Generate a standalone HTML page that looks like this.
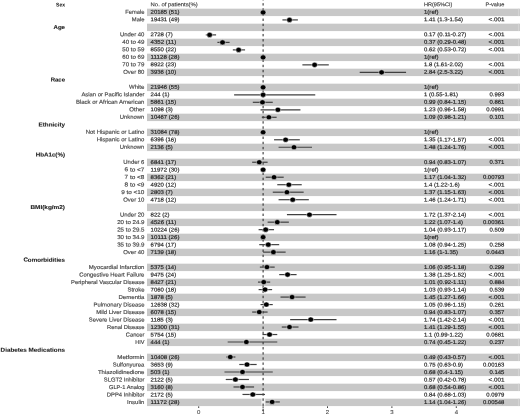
<!DOCTYPE html>
<html><head><meta charset="utf-8"><style>
html,body{margin:0;padding:0;background:#fff;}
body{width:520px;height:414px;overflow:hidden;font-family:"Liberation Sans",sans-serif;}
svg{display:block;text-rendering:geometricPrecision;will-change:transform;}
</style></head><body>
<svg width="520" height="414" viewBox="0 0 520 414" font-family="Liberation Sans, sans-serif">
<rect width="520" height="414" fill="#fff"/>
<rect x="147.0" y="8.67" width="373.0" height="7.4" fill="#c8c8c8"/><rect x="518.2" y="8.67" width="0.9" height="7.4" fill="#d8d8d8"/><rect x="147.0" y="23.67" width="373.0" height="7.4" fill="#c8c8c8"/><rect x="518.2" y="23.67" width="0.9" height="7.4" fill="#d8d8d8"/><rect x="147.0" y="38.67" width="373.0" height="7.4" fill="#c8c8c8"/><rect x="518.2" y="38.67" width="0.9" height="7.4" fill="#d8d8d8"/><rect x="147.0" y="53.67" width="373.0" height="7.4" fill="#c8c8c8"/><rect x="518.2" y="53.67" width="0.9" height="7.4" fill="#d8d8d8"/><rect x="147.0" y="68.67" width="373.0" height="7.4" fill="#c8c8c8"/><rect x="518.2" y="68.67" width="0.9" height="7.4" fill="#d8d8d8"/><rect x="147.0" y="83.67" width="373.0" height="7.4" fill="#c8c8c8"/><rect x="518.2" y="83.67" width="0.9" height="7.4" fill="#d8d8d8"/><rect x="147.0" y="98.67" width="373.0" height="7.4" fill="#c8c8c8"/><rect x="518.2" y="98.67" width="0.9" height="7.4" fill="#d8d8d8"/><rect x="147.0" y="113.67" width="373.0" height="7.4" fill="#c8c8c8"/><rect x="518.2" y="113.67" width="0.9" height="7.4" fill="#d8d8d8"/><rect x="147.0" y="128.67" width="373.0" height="7.4" fill="#c8c8c8"/><rect x="518.2" y="128.67" width="0.9" height="7.4" fill="#d8d8d8"/><rect x="147.0" y="143.67" width="373.0" height="7.4" fill="#c8c8c8"/><rect x="518.2" y="143.67" width="0.9" height="7.4" fill="#d8d8d8"/><rect x="147.0" y="158.67" width="373.0" height="7.4" fill="#c8c8c8"/><rect x="518.2" y="158.67" width="0.9" height="7.4" fill="#d8d8d8"/><rect x="147.0" y="173.67" width="373.0" height="7.4" fill="#c8c8c8"/><rect x="518.2" y="173.67" width="0.9" height="7.4" fill="#d8d8d8"/><rect x="147.0" y="188.67" width="373.0" height="7.4" fill="#c8c8c8"/><rect x="518.2" y="188.67" width="0.9" height="7.4" fill="#d8d8d8"/><rect x="147.0" y="203.67" width="373.0" height="7.4" fill="#c8c8c8"/><rect x="518.2" y="203.67" width="0.9" height="7.4" fill="#d8d8d8"/><rect x="147.0" y="218.67" width="373.0" height="7.4" fill="#c8c8c8"/><rect x="518.2" y="218.67" width="0.9" height="7.4" fill="#d8d8d8"/><rect x="147.0" y="233.67" width="373.0" height="7.4" fill="#c8c8c8"/><rect x="518.2" y="233.67" width="0.9" height="7.4" fill="#d8d8d8"/><rect x="147.0" y="248.67" width="373.0" height="7.4" fill="#c8c8c8"/><rect x="518.2" y="248.67" width="0.9" height="7.4" fill="#d8d8d8"/><rect x="147.0" y="263.67" width="373.0" height="7.4" fill="#c8c8c8"/><rect x="518.2" y="263.67" width="0.9" height="7.4" fill="#d8d8d8"/><rect x="147.0" y="278.67" width="373.0" height="7.4" fill="#c8c8c8"/><rect x="518.2" y="278.67" width="0.9" height="7.4" fill="#d8d8d8"/><rect x="147.0" y="293.67" width="373.0" height="7.4" fill="#c8c8c8"/><rect x="518.2" y="293.67" width="0.9" height="7.4" fill="#d8d8d8"/><rect x="147.0" y="308.67" width="373.0" height="7.4" fill="#c8c8c8"/><rect x="518.2" y="308.67" width="0.9" height="7.4" fill="#d8d8d8"/><rect x="147.0" y="323.67" width="373.0" height="7.4" fill="#c8c8c8"/><rect x="518.2" y="323.67" width="0.9" height="7.4" fill="#d8d8d8"/><rect x="147.0" y="338.67" width="373.0" height="7.4" fill="#c8c8c8"/><rect x="518.2" y="338.67" width="0.9" height="7.4" fill="#d8d8d8"/><rect x="147.0" y="353.67" width="373.0" height="7.4" fill="#c8c8c8"/><rect x="518.2" y="353.67" width="0.9" height="7.4" fill="#d8d8d8"/><rect x="147.0" y="368.67" width="373.0" height="7.4" fill="#c8c8c8"/><rect x="518.2" y="368.67" width="0.9" height="7.4" fill="#d8d8d8"/><rect x="147.0" y="383.67" width="373.0" height="7.4" fill="#c8c8c8"/><rect x="518.2" y="383.67" width="0.9" height="7.4" fill="#d8d8d8"/><rect x="147.0" y="398.67" width="373.0" height="7.4" fill="#c8c8c8"/><rect x="518.2" y="398.67" width="0.9" height="7.4" fill="#d8d8d8"/>
<rect x="261.4" y="398.6" width="3.9" height="7.0" fill="#fff" fill-opacity="0.75"/>
<line x1="263.10" y1="-1.9729999999999999" x2="263.10" y2="414" stroke="#222" stroke-width="1.0" stroke-dasharray="2.4 2.733"/>
<g stroke="#404040" stroke-width="1.2"><line x1="282.42" y1="19.91" x2="297.88" y2="19.91"/><line x1="205.78" y1="34.89" x2="216.09" y2="34.89"/><line x1="217.38" y1="42.38" x2="229.61" y2="42.38"/><line x1="232.83" y1="49.88" x2="245.07" y2="49.88"/><line x1="302.38" y1="64.86" x2="328.79" y2="64.86"/><line x1="359.70" y1="72.35" x2="406.07" y2="72.35"/><line x1="234.12" y1="94.82" x2="315.26" y2="94.82"/><line x1="252.80" y1="102.31" x2="272.76" y2="102.31"/><line x1="260.52" y1="109.80" x2="300.45" y2="109.80"/><line x1="261.81" y1="117.29" x2="276.62" y2="117.29"/><line x1="274.05" y1="139.77" x2="299.81" y2="139.77"/><line x1="278.56" y1="147.26" x2="312.04" y2="147.26"/><line x1="252.15" y1="162.24" x2="267.61" y2="162.24"/><line x1="265.68" y1="177.22" x2="283.71" y2="177.22"/><line x1="277.27" y1="184.71" x2="301.74" y2="184.71"/><line x1="272.76" y1="192.20" x2="303.67" y2="192.20"/><line x1="278.56" y1="199.70" x2="308.82" y2="199.70"/><line x1="286.93" y1="214.68" x2="336.52" y2="214.68"/><line x1="267.61" y1="222.17" x2="288.86" y2="222.17"/><line x1="258.59" y1="229.66" x2="274.05" y2="229.66"/><line x1="259.24" y1="244.64" x2="279.20" y2="244.64"/><line x1="263.10" y1="252.13" x2="285.64" y2="252.13"/><line x1="259.88" y1="267.12" x2="274.69" y2="267.12"/><line x1="279.20" y1="274.61" x2="296.59" y2="274.61"/><line x1="257.95" y1="282.10" x2="270.18" y2="282.10"/><line x1="258.59" y1="289.59" x2="272.12" y2="289.59"/><line x1="280.49" y1="297.08" x2="305.60" y2="297.08"/><line x1="260.52" y1="304.57" x2="272.76" y2="304.57"/><line x1="252.15" y1="312.06" x2="267.61" y2="312.06"/><line x1="290.15" y1="319.55" x2="336.52" y2="319.55"/><line x1="281.78" y1="327.04" x2="298.52" y2="327.04"/><line x1="262.46" y1="334.53" x2="277.27" y2="334.53"/><line x1="227.68" y1="342.02" x2="277.27" y2="342.02"/><line x1="226.39" y1="357.01" x2="235.41" y2="357.01"/><line x1="239.27" y1="364.50" x2="256.66" y2="364.50"/><line x1="224.46" y1="371.99" x2="272.76" y2="371.99"/><line x1="225.75" y1="379.48" x2="248.93" y2="379.48"/><line x1="233.48" y1="386.97" x2="254.08" y2="386.97"/><line x1="242.49" y1="394.46" x2="265.03" y2="394.46"/><line x1="265.68" y1="401.95" x2="279.84" y2="401.95"/></g>
<g fill="#000" stroke="#fff" stroke-width="0.5"><ellipse cx="263.10" cy="12.42" rx="2.85" ry="2.55"/><ellipse cx="289.50" cy="19.91" rx="2.85" ry="2.55"/><ellipse cx="209.65" cy="34.89" rx="2.85" ry="2.55"/><ellipse cx="222.53" cy="42.38" rx="2.85" ry="2.55"/><ellipse cx="238.63" cy="49.88" rx="2.85" ry="2.55"/><ellipse cx="263.10" cy="57.37" rx="2.85" ry="2.55"/><ellipse cx="314.62" cy="64.86" rx="2.85" ry="2.55"/><ellipse cx="381.60" cy="72.35" rx="2.85" ry="2.55"/><ellipse cx="263.10" cy="87.33" rx="2.85" ry="2.55"/><ellipse cx="263.10" cy="94.82" rx="2.85" ry="2.55"/><ellipse cx="262.46" cy="102.31" rx="2.85" ry="2.55"/><ellipse cx="277.91" cy="109.80" rx="2.85" ry="2.55"/><ellipse cx="268.90" cy="117.29" rx="2.85" ry="2.55"/><ellipse cx="263.10" cy="132.28" rx="2.85" ry="2.55"/><ellipse cx="285.64" cy="139.77" rx="2.85" ry="2.55"/><ellipse cx="294.01" cy="147.26" rx="2.85" ry="2.55"/><ellipse cx="259.24" cy="162.24" rx="2.85" ry="2.55"/><ellipse cx="263.10" cy="169.73" rx="2.85" ry="2.55"/><ellipse cx="274.05" cy="177.22" rx="2.85" ry="2.55"/><ellipse cx="288.86" cy="184.71" rx="2.85" ry="2.55"/><ellipse cx="286.93" cy="192.20" rx="2.85" ry="2.55"/><ellipse cx="292.72" cy="199.70" rx="2.85" ry="2.55"/><ellipse cx="309.47" cy="214.68" rx="2.85" ry="2.55"/><ellipse cx="277.27" cy="222.17" rx="2.85" ry="2.55"/><ellipse cx="265.68" cy="229.66" rx="2.85" ry="2.55"/><ellipse cx="263.10" cy="237.15" rx="2.85" ry="2.55"/><ellipse cx="268.25" cy="244.64" rx="2.85" ry="2.55"/><ellipse cx="273.40" cy="252.13" rx="2.85" ry="2.55"/><ellipse cx="266.96" cy="267.12" rx="2.85" ry="2.55"/><ellipse cx="287.57" cy="274.61" rx="2.85" ry="2.55"/><ellipse cx="263.74" cy="282.10" rx="2.85" ry="2.55"/><ellipse cx="265.03" cy="289.59" rx="2.85" ry="2.55"/><ellipse cx="292.08" cy="297.08" rx="2.85" ry="2.55"/><ellipse cx="266.32" cy="304.57" rx="2.85" ry="2.55"/><ellipse cx="259.24" cy="312.06" rx="2.85" ry="2.55"/><ellipse cx="310.76" cy="319.55" rx="2.85" ry="2.55"/><ellipse cx="289.50" cy="327.04" rx="2.85" ry="2.55"/><ellipse cx="269.54" cy="334.53" rx="2.85" ry="2.55"/><ellipse cx="246.36" cy="342.02" rx="2.85" ry="2.55"/><ellipse cx="230.26" cy="357.01" rx="2.85" ry="2.55"/><ellipse cx="247.00" cy="364.50" rx="2.85" ry="2.55"/><ellipse cx="242.49" cy="371.99" rx="2.85" ry="2.55"/><ellipse cx="235.41" cy="379.48" rx="2.85" ry="2.55"/><ellipse cx="242.49" cy="386.97" rx="2.85" ry="2.55"/><ellipse cx="252.80" cy="394.46" rx="2.85" ry="2.55"/><ellipse cx="272.12" cy="401.95" rx="2.85" ry="2.55"/></g>
<text transform="translate(65.00,6.45) skewY(0.05)" font-size="5.400" font-weight="bold" text-anchor="end" fill="#1a1a1a" stroke="#1a1a1a" stroke-width="0.05" textLength="8.90" lengthAdjust="spacingAndGlyphs">Sex</text><text transform="translate(150.60,6.25) skewY(0.05)" font-size="5.512" fill="#333" stroke="#333" stroke-width="0.12" textLength="47.16" lengthAdjust="spacingAndGlyphs">No. of patients(%)</text><text transform="translate(424.00,6.25) skewY(0.05)" font-size="5.512" fill="#333" stroke="#333" stroke-width="0.12" textLength="28.30" lengthAdjust="spacingAndGlyphs">HR(95%CI)</text><text transform="translate(504.40,6.25) skewY(0.05)" font-size="5.512" text-anchor="end" fill="#333" stroke="#333" stroke-width="0.12" textLength="18.96" lengthAdjust="spacingAndGlyphs">P-value</text><text transform="translate(144.40,13.76) skewY(0.05)" font-size="5.618" text-anchor="end" fill="#484848" stroke="#484848" stroke-width="0.16" textLength="19.16" lengthAdjust="spacingAndGlyphs">Female</text><text transform="translate(150.60,13.76) skewY(0.05)" font-size="5.512" fill="#222" stroke="#222" stroke-width="0.16" textLength="28.87" lengthAdjust="spacingAndGlyphs">20185 (51)</text><text transform="translate(424.00,13.76) skewY(0.05)" font-size="5.512" fill="#222" stroke="#222" stroke-width="0.16" textLength="14.42" lengthAdjust="spacingAndGlyphs">1(ref)</text><text transform="translate(144.40,21.26) skewY(0.05)" font-size="5.618" text-anchor="end" fill="#484848" stroke="#484848" stroke-width="0.16" textLength="12.55" lengthAdjust="spacingAndGlyphs">Male</text><text transform="translate(150.60,21.26) skewY(0.05)" font-size="5.512" fill="#222" stroke="#222" stroke-width="0.16" textLength="28.87" lengthAdjust="spacingAndGlyphs">19431 (49)</text><text transform="translate(424.00,21.26) skewY(0.05)" font-size="5.512" fill="#222" stroke="#222" stroke-width="0.16" textLength="39.01" lengthAdjust="spacingAndGlyphs">1.41 (1.3-1.54)</text><text transform="translate(504.40,21.26) skewY(0.05)" font-size="5.512" text-anchor="end" fill="#222" stroke="#222" stroke-width="0.16" textLength="15.94" lengthAdjust="spacingAndGlyphs">&lt;.001</text><text transform="translate(65.00,28.97) skewY(0.05)" font-size="5.618" font-weight="bold" text-anchor="end" fill="#1a1a1a" stroke="#1a1a1a" stroke-width="0.1" textLength="11.49" lengthAdjust="spacingAndGlyphs">Age</text><text transform="translate(144.40,36.28) skewY(0.05)" font-size="5.618" text-anchor="end" fill="#484848" stroke="#484848" stroke-width="0.16" textLength="24.47" lengthAdjust="spacingAndGlyphs">Under 40</text><text transform="translate(150.60,36.28) skewY(0.05)" font-size="5.512" fill="#222" stroke="#222" stroke-width="0.16" textLength="22.25" lengthAdjust="spacingAndGlyphs">2728 (7)</text><text transform="translate(424.00,36.28) skewY(0.05)" font-size="5.512" fill="#222" stroke="#222" stroke-width="0.16" textLength="42.32" lengthAdjust="spacingAndGlyphs">0.17 (0.11-0.27)</text><text transform="translate(504.40,36.28) skewY(0.05)" font-size="5.512" text-anchor="end" fill="#222" stroke="#222" stroke-width="0.16" textLength="15.94" lengthAdjust="spacingAndGlyphs">&lt;.001</text><text transform="translate(144.40,43.78) skewY(0.05)" font-size="5.618" text-anchor="end" fill="#484848" stroke="#484848" stroke-width="0.16" textLength="22.18" lengthAdjust="spacingAndGlyphs">40 to 49</text><text transform="translate(150.60,43.78) skewY(0.05)" font-size="5.512" fill="#222" stroke="#222" stroke-width="0.16" textLength="25.56" lengthAdjust="spacingAndGlyphs">4352 (11)</text><text transform="translate(424.00,43.78) skewY(0.05)" font-size="5.512" fill="#222" stroke="#222" stroke-width="0.16" textLength="42.32" lengthAdjust="spacingAndGlyphs">0.37 (0.29-0.48)</text><text transform="translate(504.40,43.78) skewY(0.05)" font-size="5.512" text-anchor="end" fill="#222" stroke="#222" stroke-width="0.16" textLength="15.94" lengthAdjust="spacingAndGlyphs">&lt;.001</text><text transform="translate(144.40,51.29) skewY(0.05)" font-size="5.618" text-anchor="end" fill="#484848" stroke="#484848" stroke-width="0.16" textLength="22.18" lengthAdjust="spacingAndGlyphs">50 to 59</text><text transform="translate(150.60,51.29) skewY(0.05)" font-size="5.512" fill="#222" stroke="#222" stroke-width="0.16" textLength="25.56" lengthAdjust="spacingAndGlyphs">8550 (22)</text><text transform="translate(424.00,51.29) skewY(0.05)" font-size="5.512" fill="#222" stroke="#222" stroke-width="0.16" textLength="42.32" lengthAdjust="spacingAndGlyphs">0.62 (0.53-0.72)</text><text transform="translate(504.40,51.29) skewY(0.05)" font-size="5.512" text-anchor="end" fill="#222" stroke="#222" stroke-width="0.16" textLength="15.94" lengthAdjust="spacingAndGlyphs">&lt;.001</text><text transform="translate(144.40,58.79) skewY(0.05)" font-size="5.618" text-anchor="end" fill="#484848" stroke="#484848" stroke-width="0.16" textLength="22.18" lengthAdjust="spacingAndGlyphs">60 to 69</text><text transform="translate(150.60,58.79) skewY(0.05)" font-size="5.512" fill="#222" stroke="#222" stroke-width="0.16" textLength="28.87" lengthAdjust="spacingAndGlyphs">11128 (28)</text><text transform="translate(424.00,58.79) skewY(0.05)" font-size="5.512" fill="#222" stroke="#222" stroke-width="0.16" textLength="14.42" lengthAdjust="spacingAndGlyphs">1(ref)</text><text transform="translate(144.40,66.30) skewY(0.05)" font-size="5.618" text-anchor="end" fill="#484848" stroke="#484848" stroke-width="0.16" textLength="22.18" lengthAdjust="spacingAndGlyphs">70 to 79</text><text transform="translate(150.60,66.30) skewY(0.05)" font-size="5.512" fill="#222" stroke="#222" stroke-width="0.16" textLength="25.56" lengthAdjust="spacingAndGlyphs">8922 (23)</text><text transform="translate(424.00,66.30) skewY(0.05)" font-size="5.512" fill="#222" stroke="#222" stroke-width="0.16" textLength="39.01" lengthAdjust="spacingAndGlyphs">1.8 (1.61-2.02)</text><text transform="translate(504.40,66.30) skewY(0.05)" font-size="5.512" text-anchor="end" fill="#222" stroke="#222" stroke-width="0.16" textLength="15.94" lengthAdjust="spacingAndGlyphs">&lt;.001</text><text transform="translate(144.40,73.81) skewY(0.05)" font-size="5.618" text-anchor="end" fill="#484848" stroke="#484848" stroke-width="0.16" textLength="21.18" lengthAdjust="spacingAndGlyphs">Over 80</text><text transform="translate(150.60,73.81) skewY(0.05)" font-size="5.512" fill="#222" stroke="#222" stroke-width="0.16" textLength="25.56" lengthAdjust="spacingAndGlyphs">3936 (10)</text><text transform="translate(424.00,73.81) skewY(0.05)" font-size="5.512" fill="#222" stroke="#222" stroke-width="0.16" textLength="39.01" lengthAdjust="spacingAndGlyphs">2.84 (2.5-3.22)</text><text transform="translate(504.40,73.81) skewY(0.05)" font-size="5.512" text-anchor="end" fill="#222" stroke="#222" stroke-width="0.16" textLength="15.94" lengthAdjust="spacingAndGlyphs">&lt;.001</text><text transform="translate(65.00,81.51) skewY(0.05)" font-size="5.618" font-weight="bold" text-anchor="end" fill="#1a1a1a" stroke="#1a1a1a" stroke-width="0.1" textLength="14.39" lengthAdjust="spacingAndGlyphs">Race</text><text transform="translate(144.40,88.82) skewY(0.05)" font-size="5.618" text-anchor="end" fill="#484848" stroke="#484848" stroke-width="0.16" textLength="15.41" lengthAdjust="spacingAndGlyphs">White</text><text transform="translate(150.60,88.82) skewY(0.05)" font-size="5.512" fill="#222" stroke="#222" stroke-width="0.16" textLength="28.87" lengthAdjust="spacingAndGlyphs">21946 (55)</text><text transform="translate(424.00,88.82) skewY(0.05)" font-size="5.512" fill="#222" stroke="#222" stroke-width="0.16" textLength="14.42" lengthAdjust="spacingAndGlyphs">1(ref)</text><text transform="translate(144.40,96.33) skewY(0.05)" font-size="5.618" text-anchor="end" fill="#484848" stroke="#484848" stroke-width="0.16" textLength="62.99" lengthAdjust="spacingAndGlyphs">Asian or Pacific Islander</text><text transform="translate(150.60,96.33) skewY(0.05)" font-size="5.512" fill="#222" stroke="#222" stroke-width="0.16" textLength="18.94" lengthAdjust="spacingAndGlyphs">244 (1)</text><text transform="translate(424.00,96.33) skewY(0.05)" font-size="5.512" fill="#222" stroke="#222" stroke-width="0.16" textLength="34.05" lengthAdjust="spacingAndGlyphs">1 (0.55-1.81)</text><text transform="translate(504.40,96.33) skewY(0.05)" font-size="5.512" text-anchor="end" fill="#222" stroke="#222" stroke-width="0.16" textLength="14.89" lengthAdjust="spacingAndGlyphs">0.993</text><text transform="translate(144.40,103.83) skewY(0.05)" font-size="5.618" text-anchor="end" fill="#484848" stroke="#484848" stroke-width="0.16" textLength="68.51" lengthAdjust="spacingAndGlyphs">Black or African American</text><text transform="translate(150.60,103.83) skewY(0.05)" font-size="5.512" fill="#222" stroke="#222" stroke-width="0.16" textLength="25.56" lengthAdjust="spacingAndGlyphs">5861 (15)</text><text transform="translate(424.00,103.83) skewY(0.05)" font-size="5.512" fill="#222" stroke="#222" stroke-width="0.16" textLength="42.32" lengthAdjust="spacingAndGlyphs">0.99 (0.84-1.15)</text><text transform="translate(504.40,103.83) skewY(0.05)" font-size="5.512" text-anchor="end" fill="#222" stroke="#222" stroke-width="0.16" textLength="14.89" lengthAdjust="spacingAndGlyphs">0.861</text><text transform="translate(144.40,111.34) skewY(0.05)" font-size="5.618" text-anchor="end" fill="#484848" stroke="#484848" stroke-width="0.16" textLength="15.05" lengthAdjust="spacingAndGlyphs">Other</text><text transform="translate(150.60,111.34) skewY(0.05)" font-size="5.512" fill="#222" stroke="#222" stroke-width="0.16" textLength="22.25" lengthAdjust="spacingAndGlyphs">1098 (3)</text><text transform="translate(424.00,111.34) skewY(0.05)" font-size="5.512" fill="#222" stroke="#222" stroke-width="0.16" textLength="42.32" lengthAdjust="spacingAndGlyphs">1.23 (0.96-1.58)</text><text transform="translate(504.40,111.34) skewY(0.05)" font-size="5.512" text-anchor="end" fill="#222" stroke="#222" stroke-width="0.16" textLength="18.20" lengthAdjust="spacingAndGlyphs">0.0991</text><text transform="translate(144.40,118.84) skewY(0.05)" font-size="5.618" text-anchor="end" fill="#484848" stroke="#484848" stroke-width="0.16" textLength="24.60" lengthAdjust="spacingAndGlyphs">Unknown</text><text transform="translate(150.60,118.84) skewY(0.05)" font-size="5.512" fill="#222" stroke="#222" stroke-width="0.16" textLength="28.87" lengthAdjust="spacingAndGlyphs">10467 (26)</text><text transform="translate(424.00,118.84) skewY(0.05)" font-size="5.512" fill="#222" stroke="#222" stroke-width="0.16" textLength="42.32" lengthAdjust="spacingAndGlyphs">1.09 (0.98-1.21)</text><text transform="translate(504.40,118.84) skewY(0.05)" font-size="5.512" text-anchor="end" fill="#222" stroke="#222" stroke-width="0.16" textLength="14.89" lengthAdjust="spacingAndGlyphs">0.101</text><text transform="translate(65.00,126.55) skewY(0.05)" font-size="5.618" font-weight="bold" text-anchor="end" fill="#1a1a1a" stroke="#1a1a1a" stroke-width="0.1" textLength="26.46" lengthAdjust="spacingAndGlyphs">Ethnicity</text><text transform="translate(144.40,133.86) skewY(0.05)" font-size="5.618" text-anchor="end" fill="#484848" stroke="#484848" stroke-width="0.16" textLength="58.69" lengthAdjust="spacingAndGlyphs">Not Hispanic or Latino</text><text transform="translate(150.60,133.86) skewY(0.05)" font-size="5.512" fill="#222" stroke="#222" stroke-width="0.16" textLength="28.87" lengthAdjust="spacingAndGlyphs">31084 (78)</text><text transform="translate(424.00,133.86) skewY(0.05)" font-size="5.512" fill="#222" stroke="#222" stroke-width="0.16" textLength="14.42" lengthAdjust="spacingAndGlyphs">1(ref)</text><text transform="translate(144.40,141.36) skewY(0.05)" font-size="5.618" text-anchor="end" fill="#484848" stroke="#484848" stroke-width="0.16" textLength="47.72" lengthAdjust="spacingAndGlyphs">Hispanic or Latino</text><text transform="translate(150.60,141.36) skewY(0.05)" font-size="5.512" fill="#222" stroke="#222" stroke-width="0.16" textLength="25.56" lengthAdjust="spacingAndGlyphs">6396 (16)</text><text transform="translate(424.00,141.36) skewY(0.05)" font-size="5.512" fill="#222" stroke="#222" stroke-width="0.16" textLength="42.32" lengthAdjust="spacingAndGlyphs">1.35 (1.17-1.57)</text><text transform="translate(504.40,141.36) skewY(0.05)" font-size="5.512" text-anchor="end" fill="#222" stroke="#222" stroke-width="0.16" textLength="15.94" lengthAdjust="spacingAndGlyphs">&lt;.001</text><text transform="translate(144.40,148.87) skewY(0.05)" font-size="5.618" text-anchor="end" fill="#484848" stroke="#484848" stroke-width="0.16" textLength="24.60" lengthAdjust="spacingAndGlyphs">Unknown</text><text transform="translate(150.60,148.87) skewY(0.05)" font-size="5.512" fill="#222" stroke="#222" stroke-width="0.16" textLength="22.25" lengthAdjust="spacingAndGlyphs">2136 (5)</text><text transform="translate(424.00,148.87) skewY(0.05)" font-size="5.512" fill="#222" stroke="#222" stroke-width="0.16" textLength="42.32" lengthAdjust="spacingAndGlyphs">1.48 (1.24-1.76)</text><text transform="translate(504.40,148.87) skewY(0.05)" font-size="5.512" text-anchor="end" fill="#222" stroke="#222" stroke-width="0.16" textLength="15.94" lengthAdjust="spacingAndGlyphs">&lt;.001</text><text transform="translate(65.00,156.58) skewY(0.05)" font-size="5.618" font-weight="bold" text-anchor="end" fill="#1a1a1a" stroke="#1a1a1a" stroke-width="0.1" textLength="29.32" lengthAdjust="spacingAndGlyphs">HbA1c(%)</text><text transform="translate(144.40,163.88) skewY(0.05)" font-size="5.618" text-anchor="end" fill="#484848" stroke="#484848" stroke-width="0.16" textLength="21.10" lengthAdjust="spacingAndGlyphs">Under 6</text><text transform="translate(150.60,163.88) skewY(0.05)" font-size="5.512" fill="#222" stroke="#222" stroke-width="0.16" textLength="25.56" lengthAdjust="spacingAndGlyphs">6841 (17)</text><text transform="translate(424.00,163.88) skewY(0.05)" font-size="5.512" fill="#222" stroke="#222" stroke-width="0.16" textLength="42.32" lengthAdjust="spacingAndGlyphs">0.94 (0.83-1.07)</text><text transform="translate(504.40,163.88) skewY(0.05)" font-size="5.512" text-anchor="end" fill="#222" stroke="#222" stroke-width="0.16" textLength="14.89" lengthAdjust="spacingAndGlyphs">0.371</text><text transform="translate(144.40,171.39) skewY(0.05)" font-size="5.618" text-anchor="end" fill="#484848" stroke="#484848" stroke-width="0.16" textLength="19.88" lengthAdjust="spacingAndGlyphs">6 to &lt;7</text><text transform="translate(150.60,171.39) skewY(0.05)" font-size="5.512" fill="#222" stroke="#222" stroke-width="0.16" textLength="28.87" lengthAdjust="spacingAndGlyphs">11972 (30)</text><text transform="translate(424.00,171.39) skewY(0.05)" font-size="5.512" fill="#222" stroke="#222" stroke-width="0.16" textLength="14.42" lengthAdjust="spacingAndGlyphs">1(ref)</text><text transform="translate(144.40,178.89) skewY(0.05)" font-size="5.618" text-anchor="end" fill="#484848" stroke="#484848" stroke-width="0.16" textLength="19.88" lengthAdjust="spacingAndGlyphs">7 to &lt;8</text><text transform="translate(150.60,178.89) skewY(0.05)" font-size="5.512" fill="#222" stroke="#222" stroke-width="0.16" textLength="25.56" lengthAdjust="spacingAndGlyphs">8362 (21)</text><text transform="translate(424.00,178.89) skewY(0.05)" font-size="5.512" fill="#222" stroke="#222" stroke-width="0.16" textLength="42.32" lengthAdjust="spacingAndGlyphs">1.17 (1.04-1.32)</text><text transform="translate(504.40,178.89) skewY(0.05)" font-size="5.512" text-anchor="end" fill="#222" stroke="#222" stroke-width="0.16" textLength="21.50" lengthAdjust="spacingAndGlyphs">0.00793</text><text transform="translate(144.40,186.40) skewY(0.05)" font-size="5.618" text-anchor="end" fill="#484848" stroke="#484848" stroke-width="0.16" textLength="19.88" lengthAdjust="spacingAndGlyphs">8 to &lt;9</text><text transform="translate(150.60,186.40) skewY(0.05)" font-size="5.512" fill="#222" stroke="#222" stroke-width="0.16" textLength="25.56" lengthAdjust="spacingAndGlyphs">4920 (12)</text><text transform="translate(424.00,186.40) skewY(0.05)" font-size="5.512" fill="#222" stroke="#222" stroke-width="0.16" textLength="35.70" lengthAdjust="spacingAndGlyphs">1.4 (1.22-1.6)</text><text transform="translate(504.40,186.40) skewY(0.05)" font-size="5.512" text-anchor="end" fill="#222" stroke="#222" stroke-width="0.16" textLength="15.94" lengthAdjust="spacingAndGlyphs">&lt;.001</text><text transform="translate(144.40,193.91) skewY(0.05)" font-size="5.618" text-anchor="end" fill="#484848" stroke="#484848" stroke-width="0.16" textLength="23.25" lengthAdjust="spacingAndGlyphs">9 to &lt;10</text><text transform="translate(150.60,193.91) skewY(0.05)" font-size="5.512" fill="#222" stroke="#222" stroke-width="0.16" textLength="22.25" lengthAdjust="spacingAndGlyphs">2803 (7)</text><text transform="translate(424.00,193.91) skewY(0.05)" font-size="5.512" fill="#222" stroke="#222" stroke-width="0.16" textLength="42.32" lengthAdjust="spacingAndGlyphs">1.37 (1.15-1.63)</text><text transform="translate(504.40,193.91) skewY(0.05)" font-size="5.512" text-anchor="end" fill="#222" stroke="#222" stroke-width="0.16" textLength="15.94" lengthAdjust="spacingAndGlyphs">&lt;.001</text><text transform="translate(144.40,201.41) skewY(0.05)" font-size="5.618" text-anchor="end" fill="#484848" stroke="#484848" stroke-width="0.16" textLength="21.18" lengthAdjust="spacingAndGlyphs">Over 10</text><text transform="translate(150.60,201.41) skewY(0.05)" font-size="5.512" fill="#222" stroke="#222" stroke-width="0.16" textLength="25.56" lengthAdjust="spacingAndGlyphs">4718 (12)</text><text transform="translate(424.00,201.41) skewY(0.05)" font-size="5.512" fill="#222" stroke="#222" stroke-width="0.16" textLength="42.32" lengthAdjust="spacingAndGlyphs">1.46 (1.24-1.71)</text><text transform="translate(504.40,201.41) skewY(0.05)" font-size="5.512" text-anchor="end" fill="#222" stroke="#222" stroke-width="0.16" textLength="15.94" lengthAdjust="spacingAndGlyphs">&lt;.001</text><text transform="translate(65.00,209.12) skewY(0.05)" font-size="5.618" font-weight="bold" text-anchor="end" fill="#1a1a1a" stroke="#1a1a1a" stroke-width="0.1" textLength="34.60" lengthAdjust="spacingAndGlyphs">BMI(kg/m2)</text><text transform="translate(144.40,216.43) skewY(0.05)" font-size="5.618" text-anchor="end" fill="#484848" stroke="#484848" stroke-width="0.16" textLength="24.47" lengthAdjust="spacingAndGlyphs">Under 20</text><text transform="translate(150.60,216.43) skewY(0.05)" font-size="5.512" fill="#222" stroke="#222" stroke-width="0.16" textLength="18.94" lengthAdjust="spacingAndGlyphs">822 (2)</text><text transform="translate(424.00,216.43) skewY(0.05)" font-size="5.512" fill="#222" stroke="#222" stroke-width="0.16" textLength="42.32" lengthAdjust="spacingAndGlyphs">1.72 (1.37-2.14)</text><text transform="translate(504.40,216.43) skewY(0.05)" font-size="5.512" text-anchor="end" fill="#222" stroke="#222" stroke-width="0.16" textLength="15.94" lengthAdjust="spacingAndGlyphs">&lt;.001</text><text transform="translate(144.40,223.93) skewY(0.05)" font-size="5.618" text-anchor="end" fill="#484848" stroke="#484848" stroke-width="0.16" textLength="27.24" lengthAdjust="spacingAndGlyphs">20 to 24.9</text><text transform="translate(150.60,223.93) skewY(0.05)" font-size="5.512" fill="#222" stroke="#222" stroke-width="0.16" textLength="25.56" lengthAdjust="spacingAndGlyphs">4526 (11)</text><text transform="translate(424.00,223.93) skewY(0.05)" font-size="5.512" fill="#222" stroke="#222" stroke-width="0.16" textLength="39.01" lengthAdjust="spacingAndGlyphs">1.22 (1.07-1.4)</text><text transform="translate(504.40,223.93) skewY(0.05)" font-size="5.512" text-anchor="end" fill="#222" stroke="#222" stroke-width="0.16" textLength="21.50" lengthAdjust="spacingAndGlyphs">0.00361</text><text transform="translate(144.40,231.44) skewY(0.05)" font-size="5.618" text-anchor="end" fill="#484848" stroke="#484848" stroke-width="0.16" textLength="27.24" lengthAdjust="spacingAndGlyphs">25 to 29.5</text><text transform="translate(150.60,231.44) skewY(0.05)" font-size="5.512" fill="#222" stroke="#222" stroke-width="0.16" textLength="28.87" lengthAdjust="spacingAndGlyphs">10224 (26)</text><text transform="translate(424.00,231.44) skewY(0.05)" font-size="5.512" fill="#222" stroke="#222" stroke-width="0.16" textLength="42.32" lengthAdjust="spacingAndGlyphs">1.04 (0.93-1.17)</text><text transform="translate(504.40,231.44) skewY(0.05)" font-size="5.512" text-anchor="end" fill="#222" stroke="#222" stroke-width="0.16" textLength="14.89" lengthAdjust="spacingAndGlyphs">0.509</text><text transform="translate(144.40,238.95) skewY(0.05)" font-size="5.618" text-anchor="end" fill="#484848" stroke="#484848" stroke-width="0.16" textLength="27.24" lengthAdjust="spacingAndGlyphs">30 to 34.9</text><text transform="translate(150.60,238.95) skewY(0.05)" font-size="5.512" fill="#222" stroke="#222" stroke-width="0.16" textLength="28.87" lengthAdjust="spacingAndGlyphs">10111 (26)</text><text transform="translate(424.00,238.95) skewY(0.05)" font-size="5.512" fill="#222" stroke="#222" stroke-width="0.16" textLength="14.42" lengthAdjust="spacingAndGlyphs">1(ref)</text><text transform="translate(144.40,246.45) skewY(0.05)" font-size="5.618" text-anchor="end" fill="#484848" stroke="#484848" stroke-width="0.16" textLength="27.24" lengthAdjust="spacingAndGlyphs">35 to 39.9</text><text transform="translate(150.60,246.45) skewY(0.05)" font-size="5.512" fill="#222" stroke="#222" stroke-width="0.16" textLength="25.56" lengthAdjust="spacingAndGlyphs">6794 (17)</text><text transform="translate(424.00,246.45) skewY(0.05)" font-size="5.512" fill="#222" stroke="#222" stroke-width="0.16" textLength="42.32" lengthAdjust="spacingAndGlyphs">1.08 (0.94-1.25)</text><text transform="translate(504.40,246.45) skewY(0.05)" font-size="5.512" text-anchor="end" fill="#222" stroke="#222" stroke-width="0.16" textLength="14.89" lengthAdjust="spacingAndGlyphs">0.258</text><text transform="translate(144.40,253.96) skewY(0.05)" font-size="5.618" text-anchor="end" fill="#484848" stroke="#484848" stroke-width="0.16" textLength="21.18" lengthAdjust="spacingAndGlyphs">Over 40</text><text transform="translate(150.60,253.96) skewY(0.05)" font-size="5.512" fill="#222" stroke="#222" stroke-width="0.16" textLength="25.56" lengthAdjust="spacingAndGlyphs">7139 (18)</text><text transform="translate(424.00,253.96) skewY(0.05)" font-size="5.512" fill="#222" stroke="#222" stroke-width="0.16" textLength="34.05" lengthAdjust="spacingAndGlyphs">1.16 (1-1.35)</text><text transform="translate(504.40,253.96) skewY(0.05)" font-size="5.512" text-anchor="end" fill="#222" stroke="#222" stroke-width="0.16" textLength="18.20" lengthAdjust="spacingAndGlyphs">0.0443</text><text transform="translate(65.00,261.66) skewY(0.05)" font-size="5.618" font-weight="bold" text-anchor="end" fill="#1a1a1a" stroke="#1a1a1a" stroke-width="0.1" textLength="41.63" lengthAdjust="spacingAndGlyphs">Comorbidities</text><text transform="translate(144.40,268.97) skewY(0.05)" font-size="5.618" text-anchor="end" fill="#484848" stroke="#484848" stroke-width="0.16" textLength="55.61" lengthAdjust="spacingAndGlyphs">Myocardial Infarction</text><text transform="translate(150.60,268.97) skewY(0.05)" font-size="5.512" fill="#222" stroke="#222" stroke-width="0.16" textLength="25.56" lengthAdjust="spacingAndGlyphs">5375 (14)</text><text transform="translate(424.00,268.97) skewY(0.05)" font-size="5.512" fill="#222" stroke="#222" stroke-width="0.16" textLength="42.32" lengthAdjust="spacingAndGlyphs">1.06 (0.95-1.18)</text><text transform="translate(504.40,268.97) skewY(0.05)" font-size="5.512" text-anchor="end" fill="#222" stroke="#222" stroke-width="0.16" textLength="14.89" lengthAdjust="spacingAndGlyphs">0.299</text><text transform="translate(144.40,276.48) skewY(0.05)" font-size="5.618" text-anchor="end" fill="#484848" stroke="#484848" stroke-width="0.16" textLength="65.19" lengthAdjust="spacingAndGlyphs">Congestive Heart Failure</text><text transform="translate(150.60,276.48) skewY(0.05)" font-size="5.512" fill="#222" stroke="#222" stroke-width="0.16" textLength="25.56" lengthAdjust="spacingAndGlyphs">9475 (24)</text><text transform="translate(424.00,276.48) skewY(0.05)" font-size="5.512" fill="#222" stroke="#222" stroke-width="0.16" textLength="42.32" lengthAdjust="spacingAndGlyphs">1.38 (1.25-1.52)</text><text transform="translate(504.40,276.48) skewY(0.05)" font-size="5.512" text-anchor="end" fill="#222" stroke="#222" stroke-width="0.16" textLength="15.94" lengthAdjust="spacingAndGlyphs">&lt;.001</text><text transform="translate(144.40,283.98) skewY(0.05)" font-size="5.618" text-anchor="end" fill="#484848" stroke="#484848" stroke-width="0.16" textLength="73.41" lengthAdjust="spacingAndGlyphs">Peripheral Vascular Disease</text><text transform="translate(150.60,283.98) skewY(0.05)" font-size="5.512" fill="#222" stroke="#222" stroke-width="0.16" textLength="25.56" lengthAdjust="spacingAndGlyphs">8427 (21)</text><text transform="translate(424.00,283.98) skewY(0.05)" font-size="5.512" fill="#222" stroke="#222" stroke-width="0.16" textLength="42.32" lengthAdjust="spacingAndGlyphs">1.01 (0.92-1.11)</text><text transform="translate(504.40,283.98) skewY(0.05)" font-size="5.512" text-anchor="end" fill="#222" stroke="#222" stroke-width="0.16" textLength="14.89" lengthAdjust="spacingAndGlyphs">0.884</text><text transform="translate(144.40,291.49) skewY(0.05)" font-size="5.618" text-anchor="end" fill="#484848" stroke="#484848" stroke-width="0.16" textLength="16.89" lengthAdjust="spacingAndGlyphs">Stroke</text><text transform="translate(150.60,291.49) skewY(0.05)" font-size="5.512" fill="#222" stroke="#222" stroke-width="0.16" textLength="25.56" lengthAdjust="spacingAndGlyphs">7060 (18)</text><text transform="translate(424.00,291.49) skewY(0.05)" font-size="5.512" fill="#222" stroke="#222" stroke-width="0.16" textLength="42.32" lengthAdjust="spacingAndGlyphs">1.03 (0.93-1.14)</text><text transform="translate(504.40,291.49) skewY(0.05)" font-size="5.512" text-anchor="end" fill="#222" stroke="#222" stroke-width="0.16" textLength="14.89" lengthAdjust="spacingAndGlyphs">0.539</text><text transform="translate(144.40,299.00) skewY(0.05)" font-size="5.618" text-anchor="end" fill="#484848" stroke="#484848" stroke-width="0.16" textLength="25.92" lengthAdjust="spacingAndGlyphs">Dementia</text><text transform="translate(150.60,299.00) skewY(0.05)" font-size="5.512" fill="#222" stroke="#222" stroke-width="0.16" textLength="22.25" lengthAdjust="spacingAndGlyphs">1878 (5)</text><text transform="translate(424.00,299.00) skewY(0.05)" font-size="5.512" fill="#222" stroke="#222" stroke-width="0.16" textLength="42.32" lengthAdjust="spacingAndGlyphs">1.45 (1.27-1.66)</text><text transform="translate(504.40,299.00) skewY(0.05)" font-size="5.512" text-anchor="end" fill="#222" stroke="#222" stroke-width="0.16" textLength="15.94" lengthAdjust="spacingAndGlyphs">&lt;.001</text><text transform="translate(144.40,306.50) skewY(0.05)" font-size="5.618" text-anchor="end" fill="#484848" stroke="#484848" stroke-width="0.16" textLength="50.79" lengthAdjust="spacingAndGlyphs">Pulmonary Disease</text><text transform="translate(150.60,306.50) skewY(0.05)" font-size="5.512" fill="#222" stroke="#222" stroke-width="0.16" textLength="28.87" lengthAdjust="spacingAndGlyphs">12638 (32)</text><text transform="translate(424.00,306.50) skewY(0.05)" font-size="5.512" fill="#222" stroke="#222" stroke-width="0.16" textLength="42.32" lengthAdjust="spacingAndGlyphs">1.05 (0.96-1.15)</text><text transform="translate(504.40,306.50) skewY(0.05)" font-size="5.512" text-anchor="end" fill="#222" stroke="#222" stroke-width="0.16" textLength="14.89" lengthAdjust="spacingAndGlyphs">0.261</text><text transform="translate(144.40,314.01) skewY(0.05)" font-size="5.618" text-anchor="end" fill="#484848" stroke="#484848" stroke-width="0.16" textLength="48.10" lengthAdjust="spacingAndGlyphs">Mild Liver Disease</text><text transform="translate(150.60,314.01) skewY(0.05)" font-size="5.512" fill="#222" stroke="#222" stroke-width="0.16" textLength="25.56" lengthAdjust="spacingAndGlyphs">6078 (15)</text><text transform="translate(424.00,314.01) skewY(0.05)" font-size="5.512" fill="#222" stroke="#222" stroke-width="0.16" textLength="42.32" lengthAdjust="spacingAndGlyphs">0.94 (0.83-1.07)</text><text transform="translate(504.40,314.01) skewY(0.05)" font-size="5.512" text-anchor="end" fill="#222" stroke="#222" stroke-width="0.16" textLength="14.89" lengthAdjust="spacingAndGlyphs">0.357</text><text transform="translate(144.40,321.51) skewY(0.05)" font-size="5.618" text-anchor="end" fill="#484848" stroke="#484848" stroke-width="0.16" textLength="55.56" lengthAdjust="spacingAndGlyphs">Severe Liver Disease</text><text transform="translate(150.60,321.51) skewY(0.05)" font-size="5.512" fill="#222" stroke="#222" stroke-width="0.16" textLength="22.25" lengthAdjust="spacingAndGlyphs">1185 (3)</text><text transform="translate(424.00,321.51) skewY(0.05)" font-size="5.512" fill="#222" stroke="#222" stroke-width="0.16" textLength="42.32" lengthAdjust="spacingAndGlyphs">1.74 (1.42-2.14)</text><text transform="translate(504.40,321.51) skewY(0.05)" font-size="5.512" text-anchor="end" fill="#222" stroke="#222" stroke-width="0.16" textLength="15.94" lengthAdjust="spacingAndGlyphs">&lt;.001</text><text transform="translate(144.40,329.02) skewY(0.05)" font-size="5.618" text-anchor="end" fill="#484848" stroke="#484848" stroke-width="0.16" textLength="37.31" lengthAdjust="spacingAndGlyphs">Renal Disease</text><text transform="translate(150.60,329.02) skewY(0.05)" font-size="5.512" fill="#222" stroke="#222" stroke-width="0.16" textLength="28.87" lengthAdjust="spacingAndGlyphs">12300 (31)</text><text transform="translate(424.00,329.02) skewY(0.05)" font-size="5.512" fill="#222" stroke="#222" stroke-width="0.16" textLength="42.32" lengthAdjust="spacingAndGlyphs">1.41 (1.29-1.55)</text><text transform="translate(504.40,329.02) skewY(0.05)" font-size="5.512" text-anchor="end" fill="#222" stroke="#222" stroke-width="0.16" textLength="15.94" lengthAdjust="spacingAndGlyphs">&lt;.001</text><text transform="translate(144.40,336.53) skewY(0.05)" font-size="5.618" text-anchor="end" fill="#484848" stroke="#484848" stroke-width="0.16" textLength="18.66" lengthAdjust="spacingAndGlyphs">Cancer</text><text transform="translate(150.60,336.53) skewY(0.05)" font-size="5.512" fill="#222" stroke="#222" stroke-width="0.16" textLength="25.56" lengthAdjust="spacingAndGlyphs">5754 (15)</text><text transform="translate(424.00,336.53) skewY(0.05)" font-size="5.512" fill="#222" stroke="#222" stroke-width="0.16" textLength="39.01" lengthAdjust="spacingAndGlyphs">1.1 (0.99-1.22)</text><text transform="translate(504.40,336.53) skewY(0.05)" font-size="5.512" text-anchor="end" fill="#222" stroke="#222" stroke-width="0.16" textLength="18.20" lengthAdjust="spacingAndGlyphs">0.0681</text><text transform="translate(144.40,344.03) skewY(0.05)" font-size="5.618" text-anchor="end" fill="#484848" stroke="#484848" stroke-width="0.16" textLength="9.17" lengthAdjust="spacingAndGlyphs">HIV</text><text transform="translate(150.60,344.03) skewY(0.05)" font-size="5.512" fill="#222" stroke="#222" stroke-width="0.16" textLength="18.94" lengthAdjust="spacingAndGlyphs">444 (1)</text><text transform="translate(424.00,344.03) skewY(0.05)" font-size="5.512" fill="#222" stroke="#222" stroke-width="0.16" textLength="42.32" lengthAdjust="spacingAndGlyphs">0.74 (0.45-1.22)</text><text transform="translate(504.40,344.03) skewY(0.05)" font-size="5.512" text-anchor="end" fill="#222" stroke="#222" stroke-width="0.16" textLength="14.89" lengthAdjust="spacingAndGlyphs">0.237</text><text transform="translate(65.00,351.74) skewY(0.05)" font-size="5.618" font-weight="bold" text-anchor="end" fill="#1a1a1a" stroke="#1a1a1a" stroke-width="0.1" textLength="64.43" lengthAdjust="spacingAndGlyphs">Diabetes Medications</text><text transform="translate(144.40,359.05) skewY(0.05)" font-size="5.618" text-anchor="end" fill="#484848" stroke="#484848" stroke-width="0.16" textLength="27.10" lengthAdjust="spacingAndGlyphs">Metformin</text><text transform="translate(150.60,359.05) skewY(0.05)" font-size="5.512" fill="#222" stroke="#222" stroke-width="0.16" textLength="28.87" lengthAdjust="spacingAndGlyphs">10408 (26)</text><text transform="translate(424.00,359.05) skewY(0.05)" font-size="5.512" fill="#222" stroke="#222" stroke-width="0.16" textLength="42.32" lengthAdjust="spacingAndGlyphs">0.49 (0.43-0.57)</text><text transform="translate(504.40,359.05) skewY(0.05)" font-size="5.512" text-anchor="end" fill="#222" stroke="#222" stroke-width="0.16" textLength="15.94" lengthAdjust="spacingAndGlyphs">&lt;.001</text><text transform="translate(144.40,366.55) skewY(0.05)" font-size="5.618" text-anchor="end" fill="#484848" stroke="#484848" stroke-width="0.16" textLength="31.73" lengthAdjust="spacingAndGlyphs">Sulfonyurea</text><text transform="translate(150.60,366.55) skewY(0.05)" font-size="5.512" fill="#222" stroke="#222" stroke-width="0.16" textLength="22.25" lengthAdjust="spacingAndGlyphs">3653 (9)</text><text transform="translate(424.00,366.55) skewY(0.05)" font-size="5.512" fill="#222" stroke="#222" stroke-width="0.16" textLength="39.01" lengthAdjust="spacingAndGlyphs">0.75 (0.63-0.9)</text><text transform="translate(504.40,366.55) skewY(0.05)" font-size="5.512" text-anchor="end" fill="#222" stroke="#222" stroke-width="0.16" textLength="21.50" lengthAdjust="spacingAndGlyphs">0.00163</text><text transform="translate(144.40,374.06) skewY(0.05)" font-size="5.618" text-anchor="end" fill="#484848" stroke="#484848" stroke-width="0.16" textLength="46.44" lengthAdjust="spacingAndGlyphs">Thiazolidinedione</text><text transform="translate(150.60,374.06) skewY(0.05)" font-size="5.512" fill="#222" stroke="#222" stroke-width="0.16" textLength="18.94" lengthAdjust="spacingAndGlyphs">503 (1)</text><text transform="translate(424.00,374.06) skewY(0.05)" font-size="5.512" fill="#222" stroke="#222" stroke-width="0.16" textLength="39.01" lengthAdjust="spacingAndGlyphs">0.68 (0.4-1.15)</text><text transform="translate(504.40,374.06) skewY(0.05)" font-size="5.512" text-anchor="end" fill="#222" stroke="#222" stroke-width="0.16" textLength="14.89" lengthAdjust="spacingAndGlyphs">0.145</text><text transform="translate(144.40,381.56) skewY(0.05)" font-size="5.618" text-anchor="end" fill="#484848" stroke="#484848" stroke-width="0.16" textLength="40.62" lengthAdjust="spacingAndGlyphs">SLGT2 Inhibitor</text><text transform="translate(150.60,381.56) skewY(0.05)" font-size="5.512" fill="#222" stroke="#222" stroke-width="0.16" textLength="22.25" lengthAdjust="spacingAndGlyphs">2122 (5)</text><text transform="translate(424.00,381.56) skewY(0.05)" font-size="5.512" fill="#222" stroke="#222" stroke-width="0.16" textLength="42.32" lengthAdjust="spacingAndGlyphs">0.57 (0.42-0.78)</text><text transform="translate(504.40,381.56) skewY(0.05)" font-size="5.512" text-anchor="end" fill="#222" stroke="#222" stroke-width="0.16" textLength="15.94" lengthAdjust="spacingAndGlyphs">&lt;.001</text><text transform="translate(144.40,389.07) skewY(0.05)" font-size="5.618" text-anchor="end" fill="#484848" stroke="#484848" stroke-width="0.16" textLength="35.42" lengthAdjust="spacingAndGlyphs">GLP-1 Analog</text><text transform="translate(150.60,389.07) skewY(0.05)" font-size="5.512" fill="#222" stroke="#222" stroke-width="0.16" textLength="22.25" lengthAdjust="spacingAndGlyphs">3160 (8)</text><text transform="translate(424.00,389.07) skewY(0.05)" font-size="5.512" fill="#222" stroke="#222" stroke-width="0.16" textLength="42.32" lengthAdjust="spacingAndGlyphs">0.68 (0.54-0.86)</text><text transform="translate(504.40,389.07) skewY(0.05)" font-size="5.512" text-anchor="end" fill="#222" stroke="#222" stroke-width="0.16" textLength="15.94" lengthAdjust="spacingAndGlyphs">&lt;.001</text><text transform="translate(144.40,396.58) skewY(0.05)" font-size="5.618" text-anchor="end" fill="#484848" stroke="#484848" stroke-width="0.16" textLength="37.62" lengthAdjust="spacingAndGlyphs">DPP4 Inhibitor</text><text transform="translate(150.60,396.58) skewY(0.05)" font-size="5.512" fill="#222" stroke="#222" stroke-width="0.16" textLength="22.25" lengthAdjust="spacingAndGlyphs">2172 (5)</text><text transform="translate(424.00,396.58) skewY(0.05)" font-size="5.512" fill="#222" stroke="#222" stroke-width="0.16" textLength="42.32" lengthAdjust="spacingAndGlyphs">0.84 (0.68-1.03)</text><text transform="translate(504.40,396.58) skewY(0.05)" font-size="5.512" text-anchor="end" fill="#222" stroke="#222" stroke-width="0.16" textLength="18.20" lengthAdjust="spacingAndGlyphs">0.0979</text><text transform="translate(144.40,404.08) skewY(0.05)" font-size="5.618" text-anchor="end" fill="#484848" stroke="#484848" stroke-width="0.16" textLength="17.35" lengthAdjust="spacingAndGlyphs">Insulin</text><text transform="translate(150.60,404.08) skewY(0.05)" font-size="5.512" fill="#222" stroke="#222" stroke-width="0.16" textLength="28.87" lengthAdjust="spacingAndGlyphs">11172 (28)</text><text transform="translate(424.00,404.08) skewY(0.05)" font-size="5.512" fill="#222" stroke="#222" stroke-width="0.16" textLength="42.32" lengthAdjust="spacingAndGlyphs">1.14 (1.04-1.26)</text><text transform="translate(504.40,404.08) skewY(0.05)" font-size="5.512" text-anchor="end" fill="#222" stroke="#222" stroke-width="0.16" textLength="21.50" lengthAdjust="spacingAndGlyphs">0.00548</text>
<line x1="198.70" y1="406.3" x2="198.70" y2="408.0" stroke="#444" stroke-width="1.0"/><text transform="translate(198.70,413.90) skewY(0.05)" font-size="5.618" text-anchor="middle" fill="#444" stroke="#444" stroke-width="0.08" textLength="3.37" lengthAdjust="spacingAndGlyphs">0</text><line x1="263.10" y1="406.3" x2="263.10" y2="408.0" stroke="#444" stroke-width="1.0"/><text transform="translate(263.10,413.90) skewY(0.05)" font-size="5.618" text-anchor="middle" fill="#444" stroke="#444" stroke-width="0.08" textLength="3.37" lengthAdjust="spacingAndGlyphs">1</text><line x1="327.50" y1="406.3" x2="327.50" y2="408.0" stroke="#444" stroke-width="1.0"/><text transform="translate(327.50,413.90) skewY(0.05)" font-size="5.618" text-anchor="middle" fill="#444" stroke="#444" stroke-width="0.08" textLength="3.37" lengthAdjust="spacingAndGlyphs">2</text><line x1="391.90" y1="406.3" x2="391.90" y2="408.0" stroke="#444" stroke-width="1.0"/><text transform="translate(391.90,413.90) skewY(0.05)" font-size="5.618" text-anchor="middle" fill="#444" stroke="#444" stroke-width="0.08" textLength="3.37" lengthAdjust="spacingAndGlyphs">3</text><line x1="456.30" y1="406.3" x2="456.30" y2="408.0" stroke="#444" stroke-width="1.0"/><text transform="translate(456.30,413.90) skewY(0.05)" font-size="5.618" text-anchor="middle" fill="#444" stroke="#444" stroke-width="0.08" textLength="3.37" lengthAdjust="spacingAndGlyphs">4</text>
</svg>
</body></html>
